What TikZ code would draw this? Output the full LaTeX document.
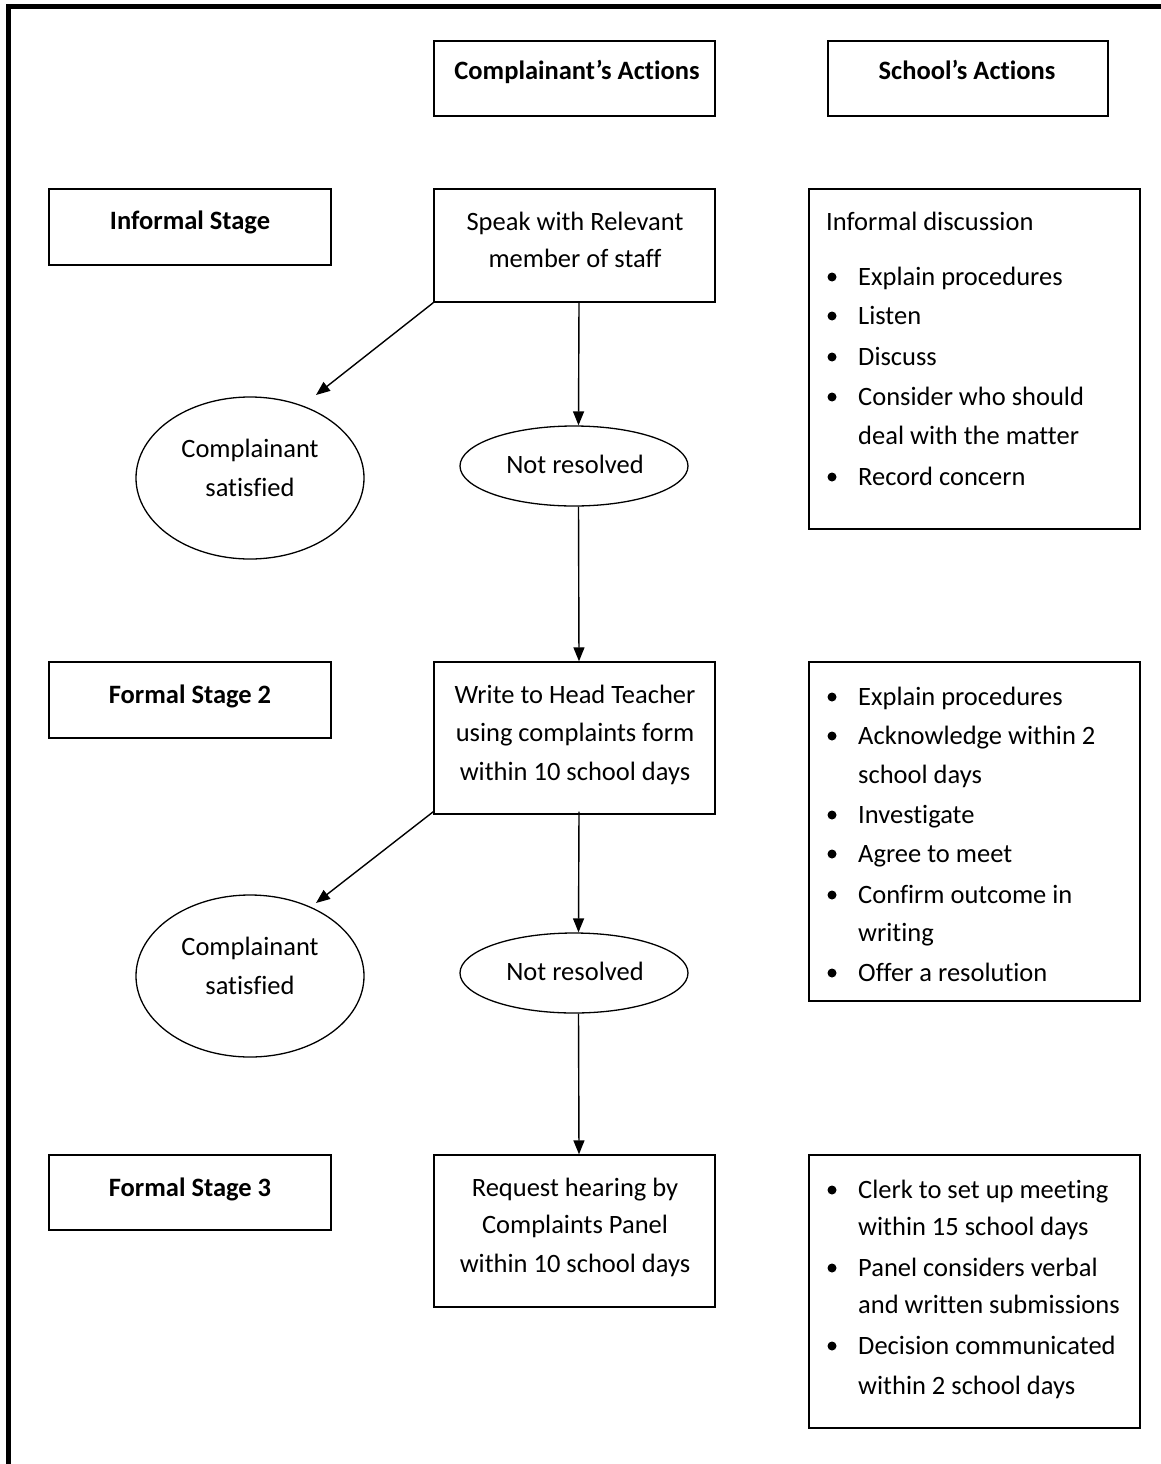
\documentclass[tikz,border=0pt]{standalone}
\usepackage{fontspec}
\setmainfont{Carlito}[Ligatures=CommonOff]
\usetikzlibrary{arrows.meta,shapes.geometric}
\begin{document}
\begin{tikzpicture}[x=1pt,y=-1pt,
  box/.style={draw, line width=1.4pt, inner sep=0, minimum width=281, },
  ell/.style={ellipse, draw, line width=1.3pt, inner sep=0, minimum width=228},
  txt/.style={inner sep=0, font=\fontsize{26.5}{39}\selectfont},
  btxt/.style={inner sep=0, font=\fontsize{26.5}{39}\selectfont\bfseries},
  arr/.style={line width=1.4pt, -{Triangle[length=14pt,width=11pt]}},
  dot/.style={circle, fill=black, inner sep=0, minimum size=9}]
\useasboundingbox (0,0) rectangle (1161,1464);
\fill[white] (0,0) rectangle (1161,1464);
% outer frame (left and top)
\draw[line width=5.4pt, line join=miter] (8.3,1464) -- (8.3,6.5) -- (1161,6.5);

\newcommand\ctl[4]{\node[txt, anchor=base] (#1) at (#2,#3+9) {#4};}
\newcommand\ltl[4]{\node[txt, anchor=base west] (#1) at (#2,#3+9) {#4};}
\newcommand\bul[3]{\node[dot] (#1d) at (832,#2+1) {};\node[txt, anchor=base west] (#1) at (858,#2+9) {#3};}

% header boxes
\node[box, minimum height=75] (ca) at (574.5,78.5) {};
\node[btxt, anchor=base] (caT) at (577,71+9) {Complainant’s Actions};
\node[box, minimum height=75, minimum width=280] (sa) at (968,78.5) {};
\node[btxt, anchor=base] (saT) at (967,71+9) {School’s Actions};

% stage boxes
\node[box, minimum height=76, minimum width=282] (st1) at (190,227) {};
\node[btxt, anchor=base] (st1T) at (190,220+9) {Informal Stage};
\node[box, minimum height=76, minimum width=282] (st2) at (190,700) {};
\node[btxt, anchor=base] (st2T) at (190,694+9) {Formal Stage 2};
\node[box, minimum height=75, minimum width=282] (st3) at (190,1192.5) {};
\node[btxt, anchor=base] (st3T) at (190,1187+9) {Formal Stage 3};

% complainant column
\node[box, minimum height=113] (speak) at (574.5,245.5) {};
\ctl{speakA}{575}{221}{Speak with Relevant}
\ctl{speakB}{575}{258}{member of staff}

\node[ell, minimum height=162] (cs1) at (250,478) {};
\ctl{cs1A}{250}{448}{Complainant}
\ctl{cs1B}{250}{487}{satisfied}

\node[ell, minimum height=80] (nr1) at (574,466) {};
\ctl{nr1T}{575}{464}{Not resolved}

\node[box, minimum height=152] (write) at (574.5,738) {};
\ctl{writeA}{575}{694}{Write to Head Teacher}
\ctl{writeB}{575}{732}{using complaints form}
\ctl{writeC}{575}{771}{within 10 school days}

\node[ell, minimum height=162] (cs2) at (250,976) {};
\ctl{cs2A}{250}{946}{Complainant}
\ctl{cs2B}{250}{985}{satisfied}

\node[ell, minimum height=80] (nr2) at (574,973) {};
\ctl{nr2T}{575}{971}{Not resolved}

\node[box, minimum height=152] (req) at (574.5,1231) {};
\ctl{reqA}{575}{1187}{Request hearing by}
\ctl{reqB}{575}{1224}{Complaints Panel}
\ctl{reqC}{575}{1263}{within 10 school days}

% school column
\node[box, minimum width=331, minimum height=340] (sc1) at (974.5,359) {};
\ltl{sc1H}{826}{221}{Informal discussion}
\bul{sc1a}{276}{Explain procedures}
\bul{sc1b}{315}{Listen}
\bul{sc1c}{356}{Discuss}
\bul{sc1d}{396}{Consider who should}
\ltl{sc1e}{858}{435}{deal with the matter}
\bul{sc1f}{476}{Record concern}

\node[box, minimum width=331, minimum height=339] (sc2) at (974.5,831.5) {};
\bul{sc2a}{696}{Explain procedures}
\bul{sc2b}{735}{Acknowledge within 2}
\ltl{sc2c}{858}{774}{school days}
\bul{sc2d}{814}{Investigate}
\bul{sc2e}{853}{Agree to meet}
\bul{sc2f}{894}{Confirm outcome in}
\ltl{sc2g}{858}{932}{writing}
\bul{sc2h}{972}{Offer a resolution}

\node[box, minimum width=331, minimum height=273] (sc3) at (974.5,1291.5) {};
\bul{sc3a}{1189}{Clerk to set up meeting}
\ltl{sc3b}{858}{1226}{within 15 school days}
\bul{sc3c}{1267}{Panel considers verbal}
\ltl{sc3d}{858}{1304}{and written submissions}
\bul{sc3e}{1345}{Decision communicated}
\ltl{sc3f}{858}{1385}{within 2 school days}

% connectors
\coordinate (d1) at (316,395);
\coordinate (d2) at (316,903);
\draw[arr] (speak.south west) -- (d1);
\draw[arr] ([xshift=4.5]speak.south) -- ([xshift=4.5]nr1.north);
\draw[arr] ([xshift=4.5]nr1.south) -- ([xshift=4.5]write.north);
\draw[arr] ([yshift=3]write.south west) -- (d2);
\draw[arr] ([xshift=4.5,yshift=3]write.south) -- ([xshift=4.5]nr2.north);
\draw[arr] ([xshift=4.5]nr2.south) -- ([xshift=4.5]req.north);
\end{tikzpicture}
\end{document}
